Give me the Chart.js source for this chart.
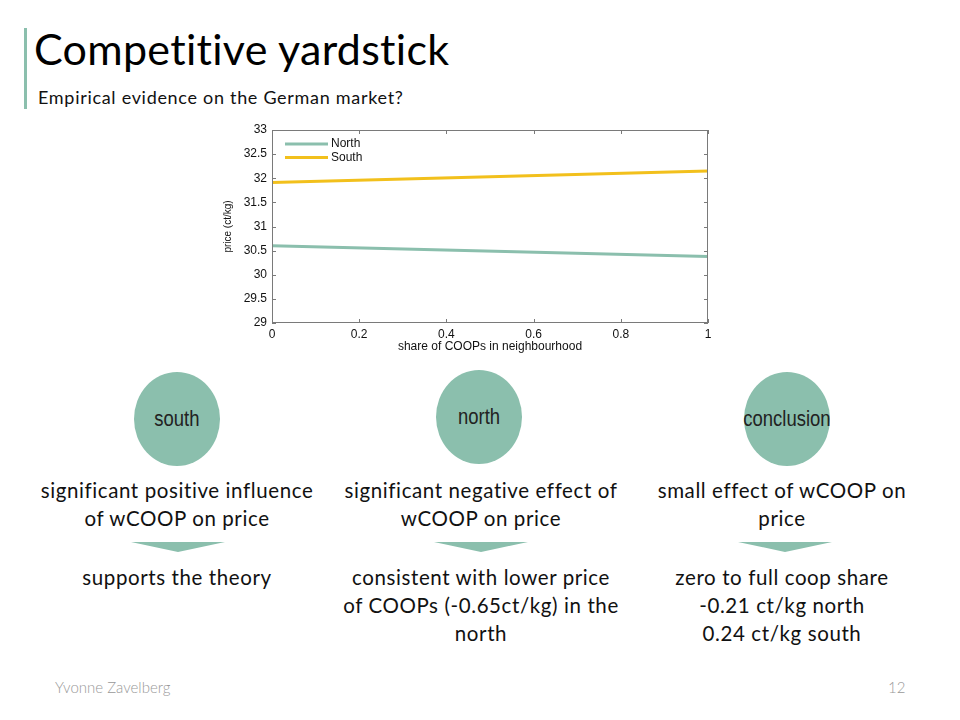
<!DOCTYPE html>
<html>
<head>
<meta charset="utf-8">
<script src="https://cdn.jsdelivr.net/npm/chart.js@4.4.1/dist/chart.umd.min.js"></script>
<style>
  body { margin: 0; width: 960px; height: 720px; background: #fff; position: relative; overflow: hidden; font-family: Lato, "Open Sans", sans-serif; }
  .bar { position: absolute; left: 24px; top: 28px; width: 3px; height: 81px; background: #8bbfad; }
  h1 { position: absolute; left: 34px; top: 24px; margin: 0; font-weight: 400; font-size: 43px; letter-spacing: 0.3px; color: #000; line-height: 50px; }
  .sub { position: absolute; left: 38px; top: 86px; font-size: 18px; letter-spacing: 0.7px; color: #111; }
  #wrap { position: absolute; left: 210px; top: 110px; width: 510px; height: 250px; }
  .circle { position: absolute; width: 86px; height: 94px; border-radius: 50%; background: #8bbfad; display: flex; align-items: center; justify-content: center; font-family: "Liberation Sans", sans-serif; font-size: 22px; color: #222; }
  .circle span { display: inline-block; transform: scaleX(0.84); white-space: nowrap; }
  .txt { position: absolute; width: 320px; text-align: center; font-size: 20.5px; letter-spacing: 0.6px; line-height: 28px; color: #111; }
  .tri { position: absolute; width: 0; height: 0; border-left: 47px solid transparent; border-right: 47px solid transparent; border-top: 10px solid #8bbfad; }
  .foot { position: absolute; top: 678px; font-size: 15px; font-weight: 300; color: #999; }
</style>
</head>
<body>
<div class="bar"></div>
<h1>Competitive yardstick</h1>
<div class="sub">Empirical evidence on the German market?</div>
<div id="wrap"><canvas id="chart"></canvas></div>

<div class="circle" style="left:134px; top:372px;"><span>south</span></div>
<div class="circle" style="left:436px; top:370px;"><span>north</span></div>
<div class="circle" style="left:744px; top:372px;"><span>conclusion</span></div>

<div class="txt" style="left:17px; top:476px;">significant positive influence<br>of wCOOP on price</div>
<div class="txt" style="left:321px; top:476px;">significant negative effect of<br>wCOOP on price</div>
<div class="txt" style="left:622px; top:476px;">small effect of wCOOP on<br>price</div>

<div class="tri" style="left:131px; top:542px;"></div>
<div class="tri" style="left:434px; top:542px;"></div>
<div class="tri" style="left:738px; top:542px;"></div>

<div class="txt" style="left:17px; top:563px;">supports the theory</div>
<div class="txt" style="left:321px; top:563px;">consistent with lower price<br>of COOPs (-0.65ct/kg) in the<br>north</div>
<div class="txt" style="left:622px; top:563px;">zero to full coop share<br>-0.21 ct/kg north<br>0.24 ct/kg south</div>

<div class="foot" style="left:55px;">Yvonne Zavelberg</div>
<div class="foot" style="left:888px;">12</div>

<script>
const share = [0, 1];
const northPrice = [30.60, 30.38];
const southPrice = [31.91, 32.15];
const yTicks = [29, 29.5, 30, 30.5, 31, 31.5, 32, 32.5, 33];
const xTicks = [0, 0.2, 0.4, 0.6, 0.8, 1];

const axisFont = { family: 'Liberation Sans, Arial, sans-serif', size: 12 };

// box + inward ticks like matlab
const boxTicks = {
  id: 'boxTicks',
  afterDraw(chart) {
    const { ctx, chartArea: a, scales } = chart;
    ctx.save();
    ctx.strokeStyle = '#7a7a7a';
    ctx.lineWidth = 1;
    ctx.strokeRect(a.left + 0.5, a.top + 0.5, a.right - a.left - 1, a.bottom - a.top - 1);
    ctx.beginPath();
    xTicks.forEach(v => {
      const x = Math.round(scales.x.getPixelForValue(v)) + 0.5;
      ctx.moveTo(x, a.bottom); ctx.lineTo(x, a.bottom - 4);
      ctx.moveTo(x, a.top); ctx.lineTo(x, a.top + 4);
    });
    yTicks.forEach(v => {
      const y = Math.round(scales.y.getPixelForValue(v)) + 0.5;
      ctx.moveTo(a.left, y); ctx.lineTo(a.left + 4, y);
      ctx.moveTo(a.right, y); ctx.lineTo(a.right - 4, y);
    });
    ctx.stroke();

    // legend inside the plot
    const items = chart.data.datasets;
    ctx.font = '12px Liberation Sans, Arial, sans-serif';
    ctx.textBaseline = 'middle';
    items.forEach((ds, i) => {
      const y = a.top + 14 + i * 13.5;
      ctx.strokeStyle = ds.borderColor;
      ctx.lineWidth = 3;
      ctx.beginPath();
      ctx.moveTo(a.left + 13, y); ctx.lineTo(a.left + 56, y);
      ctx.stroke();
      ctx.fillStyle = '#111';
      ctx.fillText(ds.label, a.left + 59, y);
    });
    ctx.restore();
  }
};

new Chart(document.getElementById('chart'), {
  type: 'line',
  data: {
    datasets: [
      {
        label: 'North',
        data: share.map((s, i) => ({ x: s, y: northPrice[i] })),
        borderColor: '#8bbfad',
        borderWidth: 3,
        pointRadius: 0,
        tension: 0
      },
      {
        label: 'South',
        data: share.map((s, i) => ({ x: s, y: southPrice[i] })),
        borderColor: '#f2c01c',
        borderWidth: 3,
        pointRadius: 0,
        tension: 0
      }
    ]
  },
  options: {
    responsive: true,
    maintainAspectRatio: false,
    animation: false,
    layout: { padding: { top: 20, right: 12, left: 12, bottom: 0 } },
    plugins: {
      legend: { display: false },
      tooltip: { enabled: false }
    },
    scales: {
      x: {
        type: 'linear',
        min: 0,
        max: 1,
        afterBuildTicks: s => { s.ticks = xTicks.map(v => ({ value: v })); },
        afterFit: s => { s.height = 37; },
        grid: { display: false },
        border: { display: false },
        ticks: { color: '#111', font: axisFont, padding: -4, maxRotation: 0, callback: v => String(v) },
        title: { display: true, text: 'share of COOPs in neighbourhood', color: '#111', font: axisFont, padding: { top: 0, bottom: 6 } }
      },
      y: {
        min: 29,
        max: 33,
        afterBuildTicks: s => { s.ticks = yTicks.map(v => ({ value: v })); },
        afterFit: s => { s.width = 50; },
        grid: { display: false },
        border: { display: false },
        ticks: { color: '#111', font: axisFont, padding: -3, callback: v => String(v) },
        title: { display: true, text: 'price (ct/kg)', color: '#111', font: { family: 'Liberation Sans, Arial, sans-serif', size: 10 }, padding: 0 }
      }
    }
  },
  plugins: [boxTicks]
});
</script>
</body>
</html>
